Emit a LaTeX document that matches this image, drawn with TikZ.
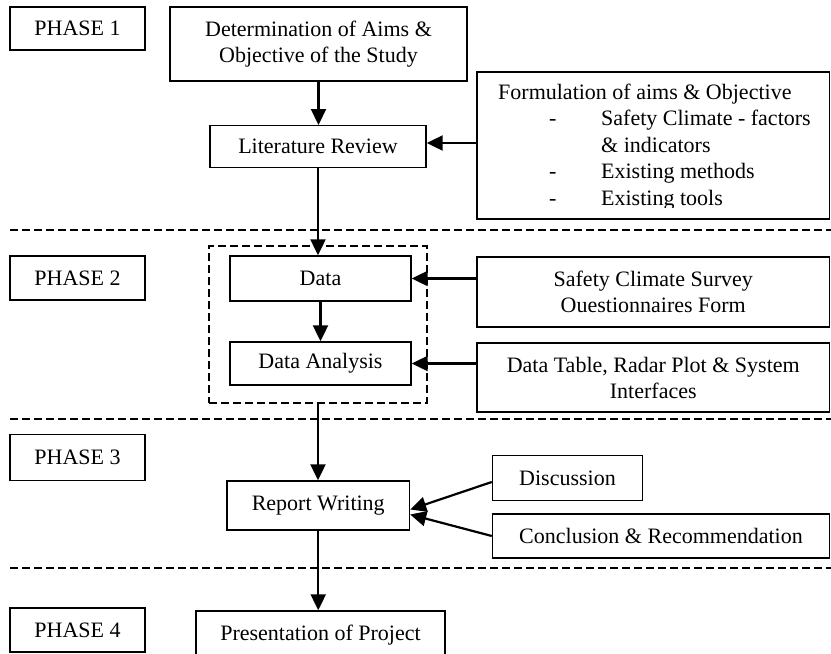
\documentclass[tikz,border=0pt]{standalone}
\usepackage{fontspec}
\setmainfont{Liberation Serif}
\usetikzlibrary{arrows.meta}
\begin{document}
\begin{tikzpicture}[x=1pt,y=-1pt,
  font=\fontsize{22}{26}\selectfont,
  box/.style={draw, line width=1.4pt, inner sep=0pt, align=center},
  arr/.style={line width=2.2pt, -{Triangle[length=16pt,width=15pt]}},
  sep/.style={line width=1.2pt, dash pattern=on 7.5pt off 4.5pt},
  grp/.style={draw, line width=1.4pt, dash pattern=on 8pt off 4pt, inner sep=0pt}]
\useasboundingbox (0,0) rectangle (831,654);
% phase labels
\node[box, minimum width=135pt, minimum height=43pt] (p1) at (77.5,28.5) {PHASE 1};
\node[box, minimum width=135pt, minimum height=44pt] (p2) at (77.5,278) {PHASE 2};
\node[box, minimum width=135pt, minimum height=46pt] (p3) at (77.5,457.5) {PHASE 3};
\node[box, minimum width=135pt, minimum height=44pt] (p4) at (77.5,630) {PHASE 4};
% separators
\coordinate (s1a) at (10,230); \coordinate (s1b) at (831,230);
\coordinate (s2a) at (10,419); \coordinate (s2b) at (831,419);
\coordinate (s3a) at (10,568); \coordinate (s3b) at (831,568);
\draw[sep] (s1a) -- (s1b);
\draw[sep] (s2a) -- (s2b);
\draw[sep] (s3a) -- (s3b);
% main column
\node[box, minimum width=297pt, minimum height=74pt] (det) at (318.5,44) {Determination of Aims \&\\Objective of the Study};
\node[box, minimum width=216pt, minimum height=42pt] (lit) at (318,146.7) {Literature Review};
\node[grp, minimum width=218pt, minimum height=157pt] (grp) at (318,324.5) {};
\node[box, minimum width=181pt, minimum height=45pt] (data) at (320.5,278.5) {Data};
\node[box, minimum width=181pt, minimum height=43pt] (da) at (320.5,363.5) {Data Analysis};
\node[box, minimum width=182.5pt, minimum height=49pt] (rw) at (318.25,505.5) {Report Writing};
\node[box, minimum width=249pt, minimum height=49pt] (pres) at (320.5,635.5) {Presentation of Project};
% side boxes
\node[box, minimum width=352.5pt, minimum height=147pt] (form) at (653.25,145.5) {};
\begin{scope}
\clip (478,73) rectangle (828,207);
\node[anchor=base west, align=left, inner sep=0pt, font=\fontsize{22}{26.5}\selectfont] (formtxt) at (498,205)
  {Formulation of aims \& Objective\\
   \hspace*{51pt}\makebox[52pt][l]{-}Safety Climate - factors\\
   \hspace*{103pt}\& indicators\\
   \hspace*{51pt}\makebox[52pt][l]{-}Existing methods\\
   \hspace*{51pt}\makebox[52pt][l]{-}Existing tools};
\end{scope}
\node[box, minimum width=352.5pt, minimum height=70pt] (survey) at (653.25,292) {Safety Climate Survey\\Ouestionnaires Form};
\node[box, minimum width=352.5pt, minimum height=69pt] (table) at (653.25,377.5) {Data Table, Radar Plot \& System\\Interfaces};
\node[box, minimum width=150pt, minimum height=45pt] (disc) at (567.5,478) {Discussion};
\node[box, minimum width=337pt, minimum height=44pt] (concl) at (661,536) {Conclusion \& Recommendation};
% connectors
\draw[arr] (det.south) -- (det.south |- lit.north);
\draw[arr] (form.west |- 0,143) -- (lit.east |- 0,143);
\draw[arr] (lit.south) -- (lit.south |- data.north);
\draw[arr] (data.east -| survey.west) -- (data.east);
\draw[arr] (data.south) -- (da.north);
\draw[arr] (da.east -| table.west) -- (da.east);
\draw[arr] (grp.south) -- (grp.south |- rw.north);
\draw[arr] ([yshift=-4pt]disc.west) -- ([yshift=-4pt]rw.east);
\draw[arr] (concl.west) -- ([yshift=-9pt]rw.east);
\draw[arr] (rw.south) -- (rw.south |- pres.north);
\end{tikzpicture}
\end{document}
